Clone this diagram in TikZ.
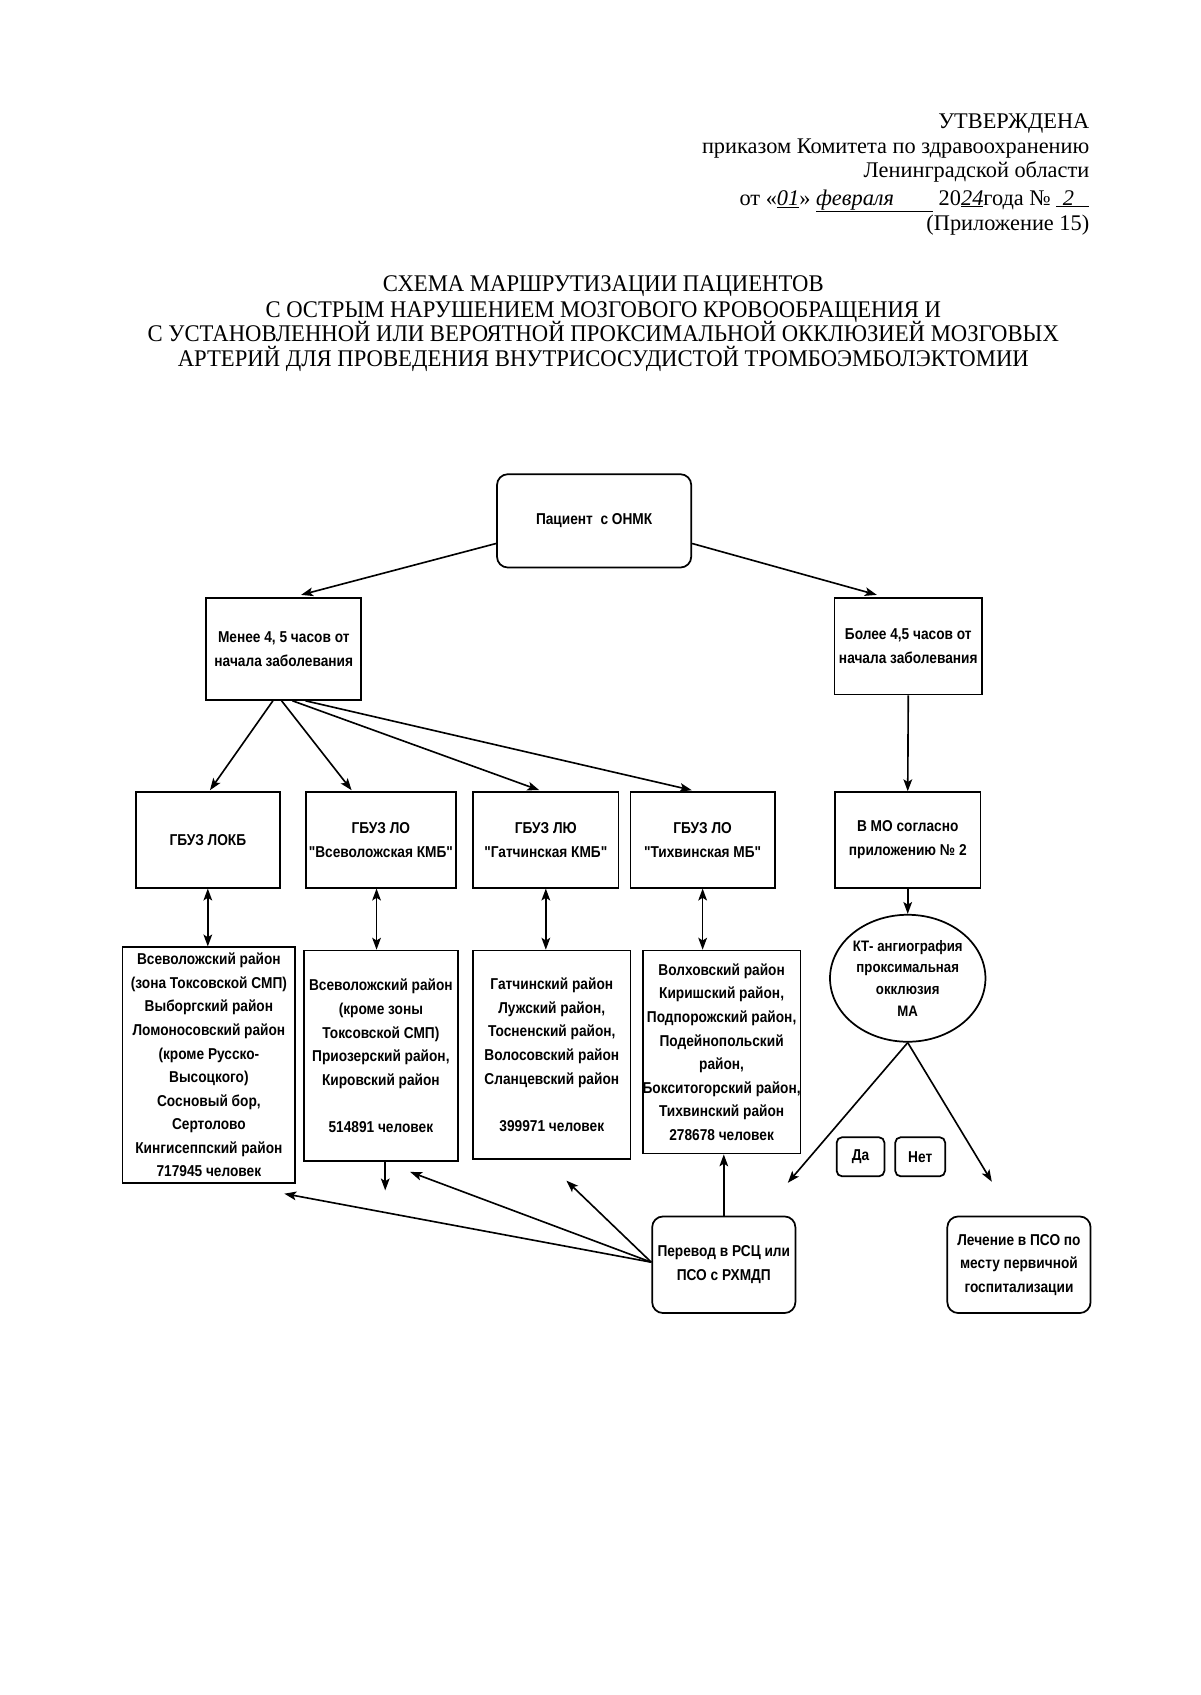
\documentclass[tikz,border=0pt]{standalone}
\usepackage{fontspec}
\setmainfont{Liberation Serif}
\newfontfamily\ttlfont[FakeStretch=0.95]{Liberation Serif}
\newfontfamily\diag[FakeStretch=0.87]{Liberation Sans}
\usetikzlibrary{shapes.geometric,arrows.meta,calc}
\begin{document}
\begin{tikzpicture}[x=1pt,y=-1pt,
  hdr/.style={anchor=base east, inner sep=0pt, font=\fontsize{20.6}{23}\selectfont},
  ttl/.style={anchor=base, inner sep=0pt, font=\ttlfont\fontsize{22}{23}\selectfont},
  bx/.style 2 args={draw, line width=1.6pt, minimum width=#1, minimum height=#2, inner sep=0pt, align=center, font=\diag\bfseries\fontsize{14.5}{21.7}\selectfont},
  rbx/.style 2 args={bx={#1}{#2}, rounded corners=10pt},
  ell/.style={draw, line width=1.6pt, ellipse, minimum width=133, minimum height=117, inner sep=0pt, align=center, font=\diag\bfseries\fontsize{14}{20}\selectfont},
  arr/.style={line width=1.5pt, -{Stealth[length=11pt,width=8pt,inset=2.5pt]}},
  darr/.style={line width=1.5pt, {Stealth[length=11pt,width=8pt,inset=2.5pt]}-{Stealth[length=11pt,width=8pt,inset=2.5pt]}}
]
\fill[white] (0,0) rectangle (1106,1562);
\useasboundingbox (0,0) rectangle (1106,1562);

% header
\node[hdr] (h1) at (1004,118) {УТВЕРЖДЕНА};
\node[hdr] (h2) at (1004,141) {приказом Комитета по здравоохранению};
\node[hdr] (h3) at (1004,164) {Ленинградской области};
\node[hdr] (h4) at (1004,189) {от «\underline{\textit{01}}» \underline{\textit{февраля}\hspace{36pt}} 20\underline{\textit{24}}года № \underline{\hspace{6pt}\textit{2}\hspace{14pt}}};
\node[hdr] (h5) at (1004,212) {(Приложение 15)};

% title
\node[ttl] (t1) at (556,269) {СХЕМА МАРШРУТИЗАЦИИ ПАЦИЕНТОВ};
\node[ttl] (t2) at (556,293) {С ОСТРЫМ НАРУШЕНИЕМ МОЗГОВОГО КРОВООБРАЩЕНИЯ И};
\node[ttl] (t3) at (556,315) {С УСТАНОВЛЕННОЙ ИЛИ ВЕРОЯТНОЙ ПРОКСИМАЛЬНОЙ ОККЛЮЗИЕЙ МОЗГОВЫХ};
\node[ttl] (t4) at (556,338) {АРТЕРИЙ ДЛЯ ПРОВЕДЕНИЯ ВНУТРИСОСУДИСТОЙ ТРОМБОЭМБОЛЭКТОМИИ};

% level 1
\node[rbx={179}{86}] (top) at (547.5,480) {Пациент\ \ с ОНМК};
% level 2
\node[bx={143}{94}] (less) at (261.5,598) {Менее 4, 5 часов от\\начала заболевания};
\node[bx={136}{89}] (more) at (837,595.5) {Более 4,5 часов от\\начала заболевания};
% level 3
\node[bx={133}{88}] (g1) at (191.5,774) {ГБУЗ ЛОКБ};
\node[bx={138}{88}] (g2) at (351,774) {ГБУЗ ЛО\\"Всеволожская КМБ"};
\node[bx={134}{88}] (g3) at (503,774) {ГБУЗ ЛЮ\\"Гатчинская КМБ"};
\node[bx={133}{88}] (g4) at (647.5,774) {ГБУЗ ЛО\\"Тихвинская МБ"};
\node[bx={134}{88}] (mo) at (836.5,774) {В МО согласно\\приложению № 2};
% level 4
\node[bx={159}{217}] (r1) at (192.5,981.5) {Всеволожский район\\(зона Токсовской СМП)\\Выборгский район\\Ломоносовский район\\(кроме Русско-\\Высоцкого)\\Сосновый бор,\\Сертолово\\Кингисеппский район\\717945 человек};
\node[bx={142}{194}] (r2) at (351,973) {Всеволожский район\\(кроме зоны\\Токсовской СМП)\\Приозерский район,\\Кировский район\\\mbox{}\\514891 человек};
\node[bx={145}{192}] (r3) at (508.5,972) {Гатчинский район\\Лужский район,\\Тосненский район,\\Волосовский район\\Сланцевский район\\\mbox{}\\399971 человек};
\node[bx={144}{187}] (r4) at (665,969.5) {Волховский район\\Киришский район,\\Подпорожский район,\\Подейнопольский\\район,\\Бокситогорский район,\\Тихвинский район\\278678 человек};
\node[ell] (ct) at (836.5,901.5) {КТ- ангиография\\проксимальная\\окклюзия\\МА};
% answers
\node[rbx={44}{36}, rounded corners=5pt] (yes) at (793,1066) {Да};
\node[rbx={46}{36}, rounded corners=5pt] (no) at (848,1066) {Нет};
% bottom
\node[rbx={132}{89}] (per) at (667,1165.5) {Перевод в РСЦ или\\ПСО с РХМДП};
\node[rbx={132}{89}] (psotr) at (939,1165.5) {Лечение в ПСО по\\месту первичной\\госпитализации};

\coordinate (yesTip) at (726,1090);
\coordinate (noTip) at (914,1089);
\coordinate (r1Tip) at (262,1100);
\coordinate (r2Tip) at (378,1080);
\coordinate (r3Tip) at (522,1088);
\coordinate (r2Down) at (355,1097);

% connectors
\draw[arr] (top.193) -- ($(less.north)+(16,-2)$);
\draw[arr] (top.-13) -- ($(more.north)+(-29,-2)$);
\draw[arr] ($(less.south)+(-10,0)$) -- ($(g1.north)+(2,-1)$);
\draw[arr] ($(less.south)+(-2,0)$) -- ($(g2.north)+(-27,-1)$);
\draw[arr] ($(less.south)+(8,0)$) -- ($(g3.north)+(-6,-1)$);
\draw[arr] ($(less.south)+(20,0)$) -- ($(g4.north)+(-10,-1)$);
\draw[arr] (more.south) -- (mo.north);
\draw[darr] (g1.south) -- (g1.south |- r1.north);
\draw[darr] ($(g2.south)+(-4,0)$) -- ($(g2.south |- r2.north)+(-4,0)$);
\draw[darr] (g3.south) -- (g3.south |- r3.north);
\draw[darr] (g4.south) -- (g4.south |- r4.north);
\draw[arr] (mo.south) -- (ct.north);
\draw[arr] (ct.south) -- (yesTip);
\draw[arr] (ct.south) -- (noTip);
\draw[arr] (per.north) -- (per.north |- r4.south);
\draw[arr] (per.178) -- (r1Tip);
\draw[arr] (per.178) -- (r2Tip);
\draw[arr] (per.178) -- (r3Tip);
\draw[arr] ($(r2.south)+(4,0)$) -- (r2Down);
\end{tikzpicture}
\end{document}
